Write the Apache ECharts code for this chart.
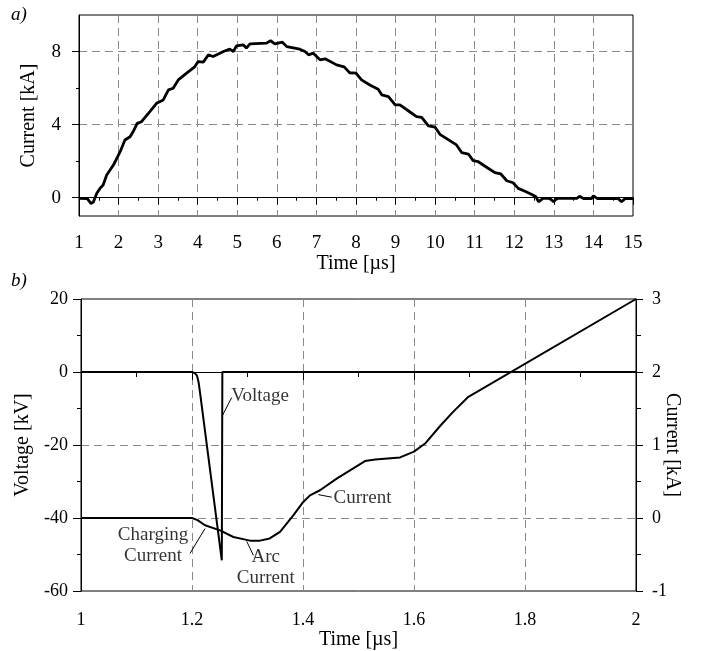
<!DOCTYPE html>
<html><head><meta charset="utf-8">
<script src="https://cdn.jsdelivr.net/npm/echarts@6/dist/echarts.min.js"></script>
<style>html,body{margin:0;padding:0;background:#fff}#c{width:708px;height:651px}</style>
</head><body><div id="c"></div>
<script>
// ---- panel a) data ----
const topTime = [1.0,1.21,1.3,1.36,1.45,1.53,1.61,1.70,1.87,2.04,2.16,2.29,2.37,2.47,2.58,2.79,2.96,3.13,3.26,3.38,3.51,3.72,3.93,4.01,4.14,4.27,4.39,4.65,4.81,4.90,4.98,5.15,5.23,5.32,5.74,5.84,5.95,6.14,6.25,6.58,6.71,6.80,6.92,7.09,7.22,7.51,7.70,7.84,8.0,8.14,8.35,8.56,8.65,8.82,8.99,9.11,9.32,9.53,9.66,9.83,10.0,10.12,10.33,10.54,10.67,10.84,10.96,11.09,11.30,11.51,11.66,11.81,11.97,12.10,12.27,12.43,12.55,12.61,12.66,12.73,12.86,12.93,12.99,13.05,13.11,13.58,13.65,13.75,13.95,14.0,14.1,14.63,14.71,14.80,15.0];
const topCurrent = [-0.03,-0.05,-0.31,-0.25,0.24,0.51,0.70,1.24,1.79,2.52,3.16,3.34,3.62,4.07,4.16,4.71,5.17,5.35,5.90,5.99,6.45,6.82,7.18,7.45,7.42,7.82,7.73,8.0,8.13,8.0,8.31,8.37,8.19,8.42,8.46,8.59,8.42,8.51,8.27,8.13,8.0,7.82,7.91,7.55,7.60,7.27,7.16,6.84,6.82,6.45,6.17,5.94,5.63,5.53,5.08,5.08,4.76,4.44,4.40,3.93,3.86,3.47,3.18,2.89,2.47,2.39,2.03,1.97,1.67,1.37,1.30,0.93,0.82,0.51,0.35,0.19,0.05,-0.22,-0.2,-0.03,-0.03,-0.1,-0.22,-0.1,-0.03,-0.03,0.08,-0.05,-0.05,0.1,-0.05,-0.05,-0.22,-0.05,-0.05];
const topYLabelValues = [0,4,8];
const topYMinorValues = [2,6];

// ---- panel b) data ----
const voltTime = [1.0,1.2,1.205,1.209,1.212,1.2144,1.2537,1.2547,2.0];
const voltValue = [0,0,-0.3,-1.0,-2.9,-5.6,-51.6,0,0];
const curTime = [1.0,1.2,1.21,1.2234,1.2505,1.2745,1.3045,1.3225,1.34,1.3586,1.3825,1.4005,1.4126,1.4306,1.4607,1.5117,1.53,1.575,1.6,1.62,1.647,1.67,1.698,2.0];
const curValue = [0,0,-0.03,-0.10,-0.17,-0.26,-0.31,-0.31,-0.28,-0.19,0.035,0.22,0.31,0.38,0.54,0.78,0.80,0.83,0.91,1.02,1.26,1.45,1.66,3.0];

// annotations (data coordinates of the voltage axis)
const annotTexts = ['Voltage','Charging\nCurrent','Arc\nCurrent','Current'];
const annotTime = [1.3225,1.1297,1.333,1.5072];
const annotVolt = [-6.55,-47.6,-53.6,-34.5];
const leaderTime = [[1.2553,1.2715],[1.1964,1.2234],[1.2986,1.3105],[1.4276,1.4517]];
const leaderVolt = [[-11.8,-7.0],[-49.7,-42.9],[-46.4,-50.2],[-33.6,-34.3]];

const FONT = 'Liberation Serif';
const black = '#000';
const gridDash = {color:'#8a8a8a', width:1, type:[8,5]};
const zip = (a,b) => a.map((v,i)=>[v,b[i]]);

const series = [
  {type:'line', xAxisIndex:0, yAxisIndex:0, data:zip(topTime,topCurrent), symbol:'none', lineStyle:{color:black,width:2.8}, z:5},
  {type:'line', xAxisIndex:1, yAxisIndex:2, data:zip(voltTime,voltValue), symbol:'none', lineStyle:{color:black,width:2}, z:5},
  {type:'line', xAxisIndex:1, yAxisIndex:3, data:zip(curTime,curValue), symbol:'none', lineStyle:{color:black,width:2}, z:5},
  {type:'scatter', xAxisIndex:1, yAxisIndex:2, symbolSize:0, silent:true,
   data: annotTexts.map((t,i)=>({name:t, value:[annotTime[i], annotVolt[i]]})),
   label:{show:true, position:'inside', formatter:p=>p.name, color:black, fontFamily:FONT, fontSize:19, lineHeight:21, align:'center', verticalAlign:'middle'}}
];
leaderTime.forEach((lt,i)=>{
  series.push({type:'line', xAxisIndex:1, yAxisIndex:2, data:zip(lt,leaderVolt[i]), symbol:'none', silent:true, lineStyle:{color:black,width:1}});
});

const axisLine = {show:true, lineStyle:{color:black,width:1}};
const option = {
  animation:false,
  backgroundColor:'#fff',
  textStyle:{fontFamily:FONT},
  graphic:[
    {type:'text', left:11, top:5, style:{text:'a)', font:'italic 19px "Liberation Serif"', fill:black}},
    {type:'text', left:11, top:271, style:{text:'b)', font:'italic 19px "Liberation Serif"', fill:black}}
  ],
  grid:[
    {left:79, top:15, width:554, height:201, show:true, borderColor:black, borderWidth:1, containLabel:false},
    {left:81, top:299, width:555, height:294, show:true, borderColor:black, borderWidth:1, containLabel:false}
  ],
  xAxis:[
    {gridIndex:0, type:'value', min:1, max:15, interval:1, axisLine,
     axisTick:{length:7, lineStyle:{color:black}}, minorTick:{show:true, splitNumber:2, length:3, lineStyle:{color:black}},
     axisLabel:{color:black, fontFamily:FONT, fontSize:19, margin:18},
     splitLine:{show:true, showMinLine:false, showMaxLine:false, lineStyle:gridDash},
     name:'Time [µs]', nameLocation:'middle', nameGap:36, nameTextStyle:{color:black, fontFamily:FONT, fontSize:20}},
    {gridIndex:1, type:'value', min:1, max:2, interval:0.2, axisLine,
     axisTick:{length:8, lineStyle:{color:black}}, minorTick:{show:true, splitNumber:2, length:5, lineStyle:{color:black}},
     axisLabel:{color:black, fontFamily:FONT, fontSize:18, margin:20, formatter:v=>String(Math.round(v*10)/10)},
     splitLine:{show:true, showMinLine:false, showMaxLine:false, lineStyle:gridDash},
     name:'Time [µs]', nameLocation:'middle', nameGap:39, nameTextStyle:{color:black, fontFamily:FONT, fontSize:20}}
  ],
  yAxis:[
    {gridIndex:0, type:'value', position:'left', min:-1, max:10, axisLine,
     axisTick:{customValues:topYLabelValues, length:7, lineStyle:{color:black}},
     axisLabel:{customValues:topYLabelValues, color:black, fontFamily:FONT, fontSize:19, margin:18},
     splitLine:{show:true, lineStyle:gridDash},
     name:'Current [kA]', nameLocation:'middle', nameGap:40, nameTextStyle:{color:black, fontFamily:FONT, fontSize:20}},
    {gridIndex:0, type:'value', position:'left', min:-1, max:10, axisLine:{show:false},
     axisTick:{customValues:topYMinorValues, length:3, lineStyle:{color:black}},
     axisLabel:{show:false}, splitLine:{show:false}},
    {gridIndex:1, type:'value', position:'left', min:-60, max:20, interval:20, axisLine,
     axisTick:{length:8, lineStyle:{color:black}}, minorTick:{show:true, splitNumber:2, length:4, lineStyle:{color:black}},
     axisLabel:{color:black, fontFamily:FONT, fontSize:18, margin:13},
     splitLine:{show:true, showMinLine:false, showMaxLine:false, lineStyle:gridDash},
     name:'Voltage [kV]', nameLocation:'middle', nameGap:43, nameTextStyle:{color:black, fontFamily:FONT, fontSize:20}},
    {gridIndex:1, type:'value', position:'right', min:-1, max:3, interval:1, axisLine,
     axisTick:{length:7, lineStyle:{color:black}}, minorTick:{show:true, splitNumber:2, length:5, lineStyle:{color:black}},
     axisLabel:{color:black, fontFamily:FONT, fontSize:18, margin:16},
     splitLine:{show:false},
     name:'Current [kA]', nameLocation:'middle', nameRotate:-90, nameGap:26, nameMoveOverlap:false, nameTextStyle:{color:black, fontFamily:FONT, fontSize:20}}
  ],
  series
};
const chart = echarts.init(document.getElementById('c'), null, {renderer:'canvas'});
chart.setOption(option);
</script></body></html>
